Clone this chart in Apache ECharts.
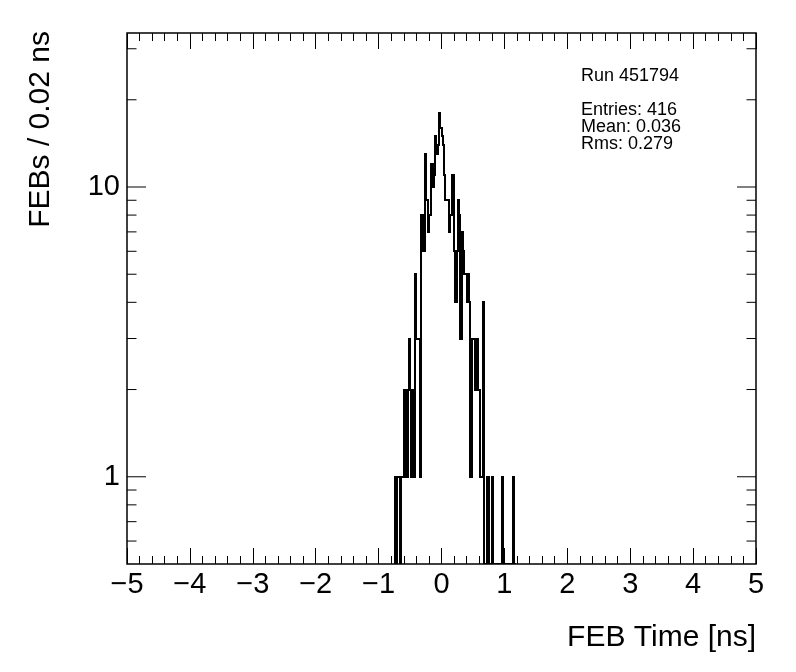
<!DOCTYPE html>
<html><head><meta charset="utf-8">
<script src="https://cdn.jsdelivr.net/npm/echarts@6/dist/echarts.min.js"></script>
<style>html,body{margin:0;padding:0;background:#fff}#c{width:796px;height:672px}</style>
</head><body><div id="c"></div>
<script>
// ---- data ----
const binStart = -0.76;   // left edge of first listed bin (ns)
const binWidth = 0.02;    // ns
const counts = [
  0,1,0,1,1,0,1,1,
  2,2,1,2,3,2,1,2,1,
  5,3,3,3,1,
  8,6,6,13,9,7,8,
  8,12,10,11,15,13,14,
  18,16,15,14,11,
  9,9,9,7,8,11,11,
  6,4,6,9,8,3,7,6,
  5,5,4,5,4,1,3,3,3,
  2,3,2,2,1,1,4,
  0,0,1,1,0,0,1,
  0,0,0,0,0,0,0,
  1,
  0,0,0,0,0,0,0,0,
  1,
  0
];
const xMin = -5, xMax = 5, xInterval = 1;
const yMin = 0.5, yMax = 34;
const yMajorTicks = [1, 10];
const yMinorTicks = [0.6, 0.7, 0.8, 0.9, 2, 3, 4, 5, 6, 7, 8, 9, 20, 30];
const runLabel = 'Run 451794';
const statsLines = ['Entries: 416', 'Mean: 0.036', 'Rms: 0.279'];
const xTitle = 'FEB Time [ns]';
const yTitle = 'FEBs / 0.02 ns';

// ---- build ----
const FONT = '"Liberation Sans", Arial, Helvetica, sans-serif';
// histogram outline: each bin contributes its left and right edge at its height
const histData = [];
counts.forEach((c, i) => {
  const v = Math.max(c, yMin);
  histData.push([binStart + i * binWidth, v]);
  histData.push([binStart + (i + 1) * binWidth, v]);
});

const yTickData = yMajorTicks.map(v => [xMin, v, 1]).concat(yMinorTicks.map(v => [xMin, v, 0]));

const fmtX = v => String(v).replace('-', '\u2212');
const fmtY = v => {
  const l = Math.log10(v);
  return Math.abs(l - Math.round(l)) < 1e-6 ? String(Math.round(v)) : '';
};

const xAxisBase = {
  type: 'value', min: xMin, max: xMax, interval: xInterval,
  axisLine: { show: false },
  splitLine: { show: false },
  axisTick: { show: true, inside: true, length: 16, lineStyle: { color: '#000', width: 1 } },
  minorTick: { show: true, splitNumber: 5, length: 8, lineStyle: { color: '#000', width: 1 } },
  minorSplitLine: { show: false }
};

const chart = echarts.init(document.getElementById('c'), null, { renderer: 'canvas' });
chart.setOption({
  animation: false,
  backgroundColor: '#fff',
  grid: { left: 127, top: 33, right: 40, bottom: 108, show: true, borderColor: '#000', borderWidth: 1.5, backgroundColor: 'transparent' },
  xAxis: [
    Object.assign({}, xAxisBase, {
      position: 'bottom',
      axisLabel: { show: true, formatter: fmtX, color: '#000', fontSize: 29, fontFamily: FONT, margin: 6, showMinLabel: true, showMaxLabel: true }
    }),
    Object.assign({}, xAxisBase, { position: 'top', axisLabel: { show: false } })
  ],
  yAxis: [
    {
      type: 'log', logBase: 10, min: yMin, max: yMax, position: 'left',
      axisLine: { show: false }, splitLine: { show: false }, axisTick: { show: false },
      axisLabel: { show: true, formatter: fmtY, color: '#000', fontSize: 29, fontFamily: FONT, margin: 7 }
    }
  ],
  series: [
    {
      type: 'custom', coordinateSystem: 'cartesian2d', clip: true, silent: true,
      data: [histData[0]],
      renderItem: function (params, api) {
        const pts = histData.map(d => {
          const p = api.coord(d);
          return [Math.round(p[0]), Math.round(p[1])];
        });
        return { type: 'polyline', shape: { points: pts }, style: { stroke: '#000', lineWidth: 2, fill: null, lineJoin: 'miter' } };
      }
    },
    {
      type: 'custom', coordinateSystem: 'cartesian2d', clip: false, silent: true,
      data: yTickData,
      renderItem: function (params, api) {
        const v = api.value(1);
        const len = api.value(2) ? 19 : 9.5;
        const pL = api.coord([xMin, v]);
        const pR = api.coord([xMax, v]);
        return {
          type: 'group', children: [
            { type: 'line', shape: { x1: pL[0], y1: pL[1], x2: pL[0] + len, y2: pL[1] }, style: { stroke: '#000', lineWidth: 1 } },
            { type: 'line', shape: { x1: pR[0], y1: pR[1], x2: pR[0] - len, y2: pR[1] }, style: { stroke: '#000', lineWidth: 1 } }
          ]
        };
      }
    }
  ],
  graphic: [
    { type: 'text', x: 581, y: 76, style: { text: runLabel, font: '18px ' + FONT, fill: '#000', verticalAlign: 'middle', align: 'left' } },
    { type: 'text', x: 581, y: 110, style: { text: statsLines[0], font: '18px ' + FONT, fill: '#000', verticalAlign: 'middle', align: 'left' } },
    { type: 'text', x: 581, y: 127, style: { text: statsLines[1], font: '18px ' + FONT, fill: '#000', verticalAlign: 'middle', align: 'left' } },
    { type: 'text', x: 581, y: 144, style: { text: statsLines[2], font: '18px ' + FONT, fill: '#000', verticalAlign: 'middle', align: 'left' } },
    { type: 'text', x: 756, y: 638, style: { text: xTitle, font: '30px ' + FONT, fill: '#000', verticalAlign: 'middle', align: 'right' } },
    { type: 'text', x: 41, y: 31, rotation: Math.PI / 2, style: { text: yTitle, font: '30px ' + FONT, fill: '#000', verticalAlign: 'middle', align: 'right' } }
  ]
});
</script>
</body></html>
